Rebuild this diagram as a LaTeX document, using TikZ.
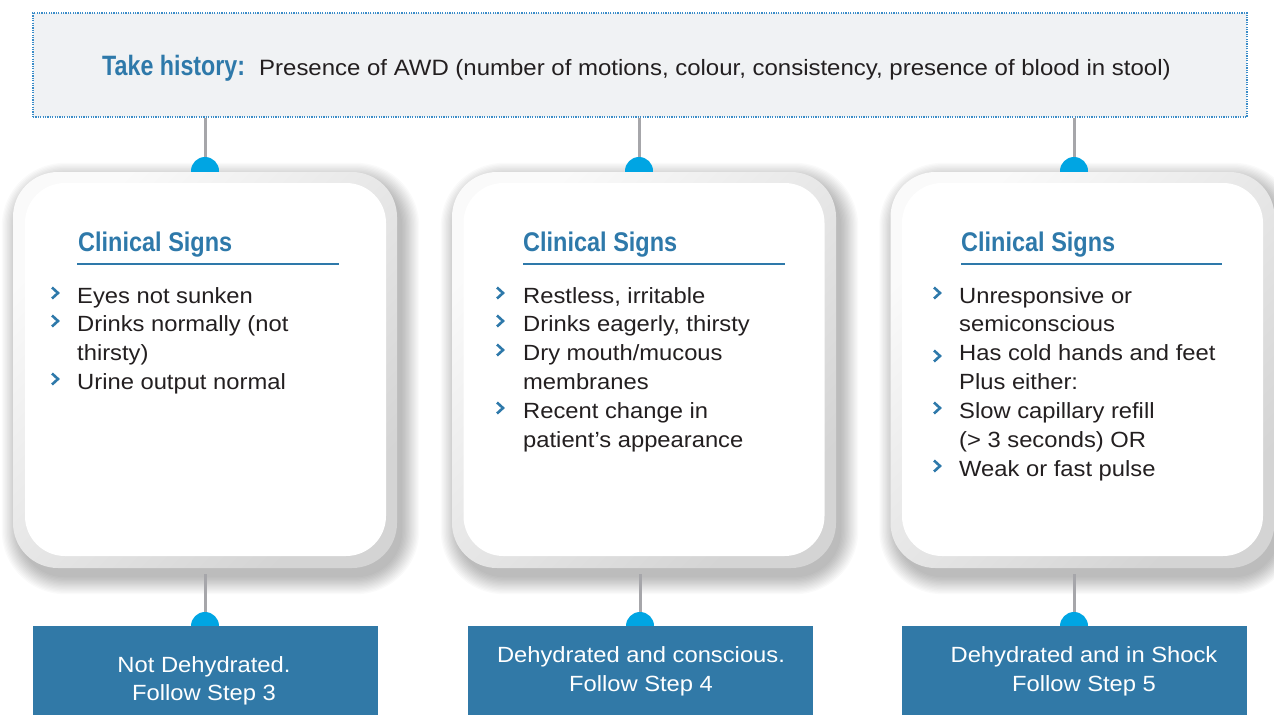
\documentclass[tikz,border=0pt]{standalone}
\usepackage{fontspec}
\setmainfont{Liberation Sans}[FakeStretch=1.08]
\newfontfamily\hfont{Liberation Sans}[FakeStretch=0.87]
\newfontfamily\tfont{Liberation Sans}[FakeStretch=0.83]
\definecolor{topc}{HTML}{F0F2F4}
\definecolor{topb}{HTML}{3A8CC8}
\definecolor{headc}{HTML}{2E79AA}
\definecolor{boxc}{HTML}{3179A7}
\definecolor{dotc}{HTML}{00A5E3}
\definecolor{linec}{HTML}{A6A6AA}
\definecolor{txtc}{HTML}{231F20}
\tikzset{
  txt/.style={inner sep=0pt, anchor=base west, text=txtc, font=\fontsize{22}{29}\selectfont},
  head/.style={inner sep=0pt, anchor=base west, text=headc, font=\hfont\bfseries\fontsize{27}{30}\selectfont},
  uline/.style={draw=headc, line width=2pt},
  chev/.style={draw=headc, line width=2.6pt, line join=miter},
  conn/.style={draw=linec, line width=3pt},
  dot/.style={fill=dotc},
  ring/.style={shape=rectangle, rounded corners=45pt, top color=black!2, bottom color=black!17, shading angle=45, inner sep=0pt, minimum width=384pt, minimum height=396pt},
  card/.style={shape=rectangle, rounded corners=40pt, fill=white, inner sep=0pt, minimum width=361pt, minimum height=373pt},
  outbox/.style={shape=rectangle, fill=boxc, inner sep=0pt, minimum width=345pt, minimum height=89pt},
  wtxt/.style={inner sep=0pt, anchor=base, text=white, font=\fontsize{22}{29}\selectfont},
  topbox/.style={shape=rectangle, fill=topc, draw=topb, line width=1.3pt, dash pattern=on 1.2pt off 1.2pt, inner sep=0pt, minimum width=1214pt, minimum height=104pt}
}
\newcommand\chevron[2]{\draw[chev] (#1,#2) ++(-3.5,-5.5) -- ++(6,5.5) -- ++(-6,5.5);}
\begin{document}
\begin{tikzpicture}[x=1pt,y=-1pt]
\fill[white] (0,0) rectangle (1274,715);
\useasboundingbox (0,0) rectangle (1274,715);

% top box
\node[topbox] (top) at (640,65) {};
\node[inner sep=0pt, anchor=base west, text=headc, font=\tfont\bfseries\fontsize{28}{30}\selectfont] (th) at (102,75) {Take history:};
\node[inner sep=0pt, anchor=base west, text=txtc, font=\fontsize{22.2}{29}\selectfont] (tt) at (259,75) {Presence of AWD (number of motions, colour, consistency, presence of blood in stool)};

% shadows
\foreach \cx in {205,644,1082.5} {
  \foreach \k in {1,...,14} {
    \fill[black, opacity=0.02, rounded corners=45+1.3*\k]
      (\cx-192-1.3*\k+7, 172-1.3*\k+9) rectangle (\cx+192+1.3*\k+4, 568+1.3*\k+8);
  }
}

% connector coordinates
\coordinate (d1) at (205,171);
\coordinate (d2) at (639,171);
\coordinate (d3) at (1074,171);
\coordinate (e1) at (205,626);
\coordinate (e2) at (640,626);
\coordinate (e3) at (1074,626);

% top connectors
\draw[conn] (top.south -| d1) -- (d1);
\draw[conn] (top.south -| d2) -- (d2);
\draw[conn] (top.south -| d3) -- (d3);
\fill[dot] (d1) circle[radius=14pt];
\fill[dot] (d2) circle[radius=14pt];
\fill[dot] (d3) circle[radius=14pt];

% cards
\node[ring] (r1) at (205,370) {};
\node[ring] (r2) at (644,370) {};
\node[ring] (r3) at (1082.5,370) {};
\node[card] (k1) at (205.5,369.5) {};
\node[card] (k2) at (644,369.5) {};
\node[card] (k3) at (1082.5,369.5) {};

% bottom connectors
\draw[conn] (e1 |- r1.south) ++(0,6) -- (e1);
\draw[conn] (e2 |- r2.south) ++(0,6) -- (e2);
\draw[conn] (e3 |- r3.south) ++(0,6) -- (e3);
\fill[dot] (e1) circle[radius=14pt];
\fill[dot] (e2) circle[radius=14pt];
\fill[dot] (e3) circle[radius=14pt];

% bottom boxes
\node[outbox] (b1) at (205.5,670.5) {};
\node[outbox] (b2) at (640.5,670.5) {};
\node[outbox] (b3) at (1074.5,670.5) {};
\node[wtxt] (b1a) at (204,672) {Not Dehydrated.};
\node[wtxt] (b1b) at (204,700) {Follow Step 3};
\node[wtxt] (b2a) at (641,662) {Dehydrated and conscious.};
\node[wtxt] (b2b) at (641,691) {Follow Step 4};
\node[wtxt] (b3a) at (1084,662) {Dehydrated and in Shock};
\node[wtxt] (b3b) at (1084,691) {Follow Step 5};

% headings
\node[head] (h1) at (78,251) {Clinical Signs};
\node[head] (h2) at (523,251) {Clinical Signs};
\node[head] (h3) at (961,251) {Clinical Signs};
\draw[uline] (77,264) -- (339,264);
\draw[uline] (523,264) -- (785,264);
\draw[uline] (961,264) -- (1222,264);

% card 1
\chevron{55.5}{293}
\node[txt] (c1a) at (77,303) {Eyes not sunken};
\chevron{55.5}{321}
\node[txt] (c1b) at (77,331) {Drinks normally (not};
\node[txt] (c1c) at (77,360) {thirsty)};
\chevron{55.5}{379}
\node[txt] (c1d) at (77,389) {Urine output normal};

% card 2
\chevron{500.5}{293}
\node[txt] (c2a) at (523,303) {Restless, irritable};
\chevron{500.5}{321}
\node[txt] (c2b) at (523,331) {Drinks eagerly, thirsty};
\chevron{500.5}{350}
\node[txt] (c2c) at (523,360) {Dry mouth/mucous};
\node[txt] (c2d) at (523,389) {membranes};
\chevron{500.5}{408}
\node[txt] (c2e) at (523,418) {Recent change in};
\node[txt] (c2f) at (523,447) {patient’s appearance};

% card 3
\chevron{937.5}{293}
\node[txt] (c3a) at (959,303) {Unresponsive or};
\node[txt] (c3b) at (959,331) {semiconscious};
\chevron{937.5}{356}
\node[txt] (c3c) at (959,360) {Has cold hands and feet};
\node[txt] (c3d) at (959,389) {Plus either:};
\chevron{937.5}{408}
\node[txt] (c3e) at (959,418) {Slow capillary refill};
\node[txt] (c3f) at (959,447) {(> 3 seconds) OR};
\chevron{937.5}{466}
\node[txt] (c3g) at (959,476) {Weak or fast pulse};
\end{tikzpicture}
\end{document}
